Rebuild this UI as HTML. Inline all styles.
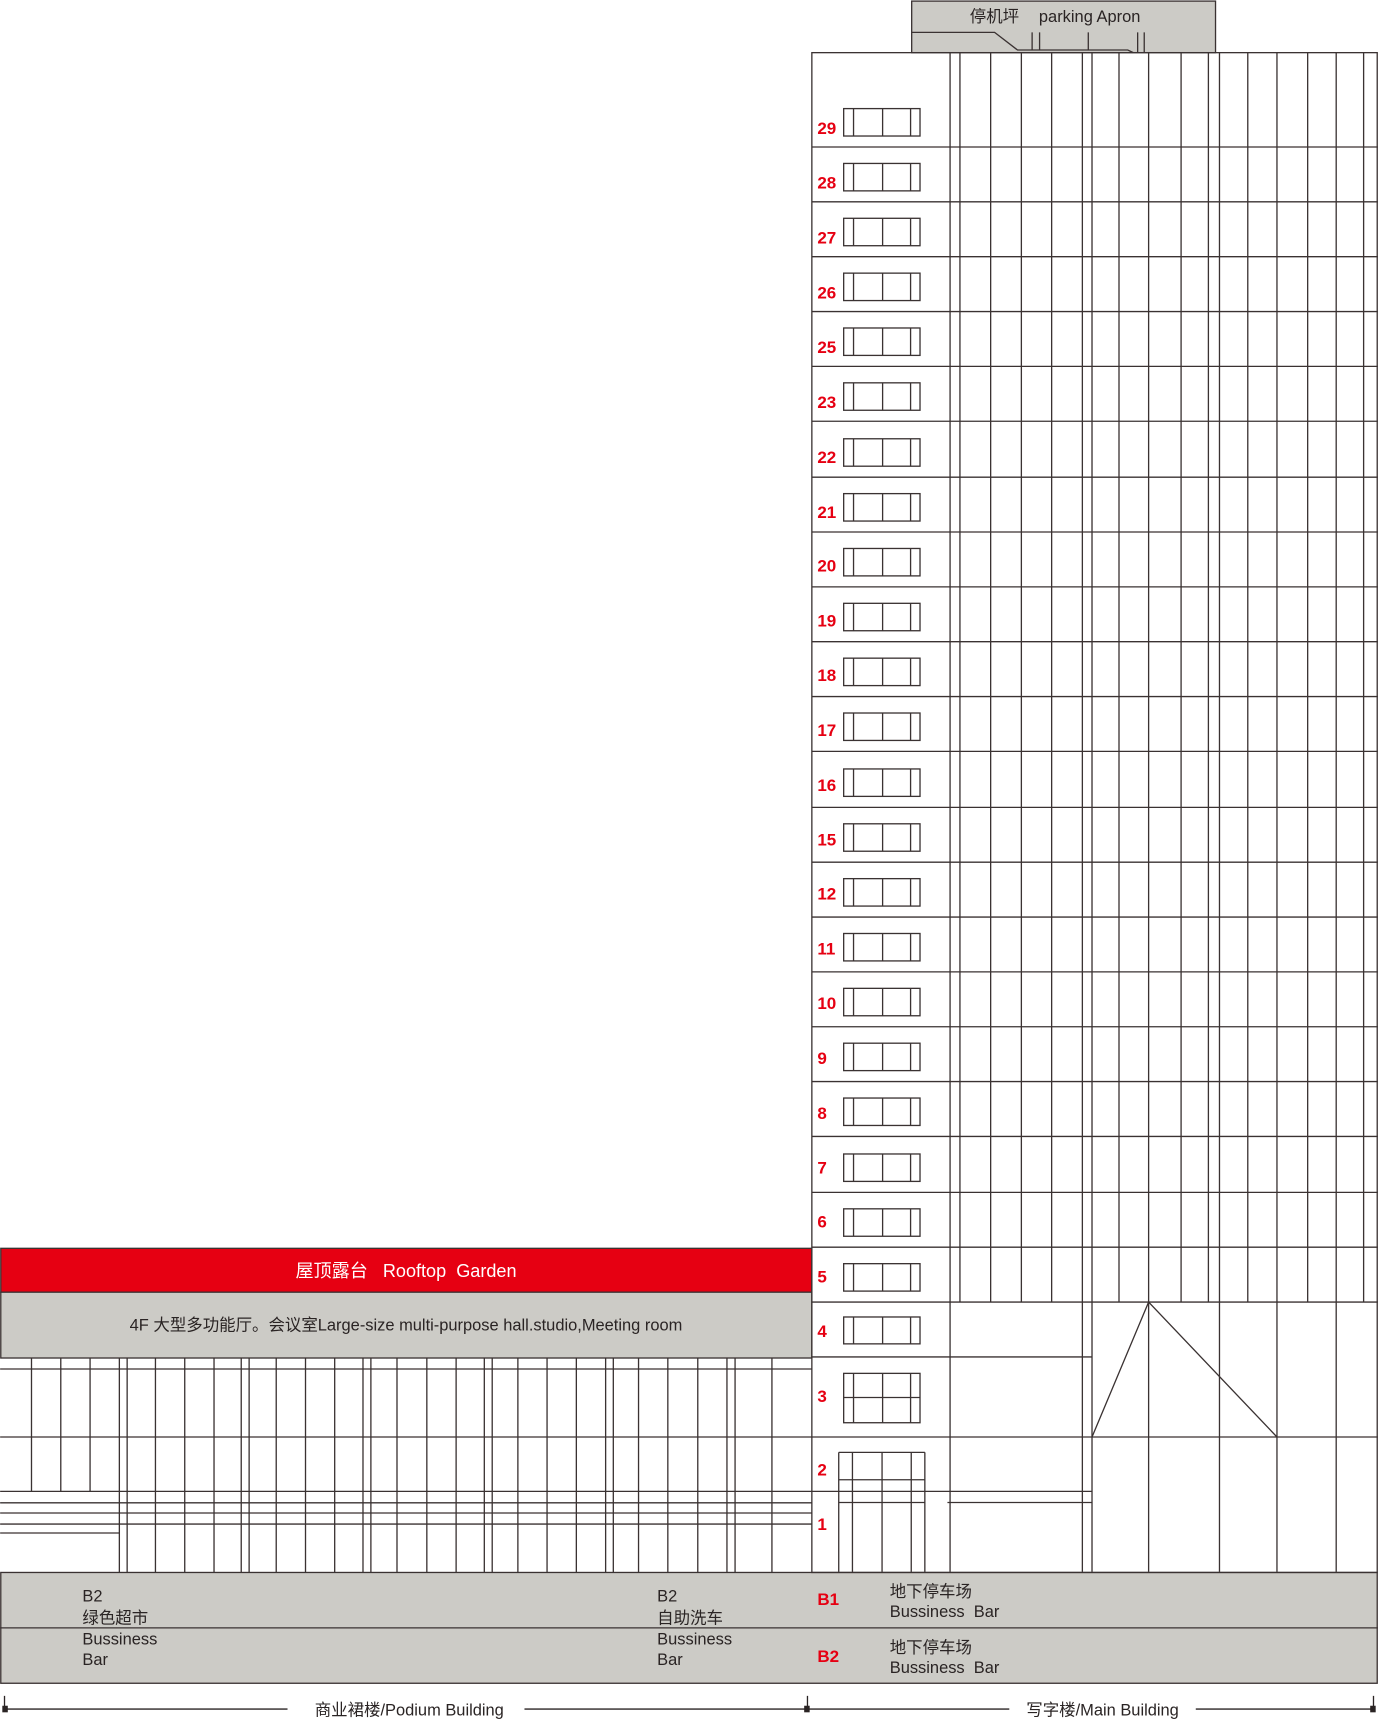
<!DOCTYPE html>
<html><head><meta charset="utf-8"><style>
html,body{margin:0;padding:0;background:#fff}
svg{display:block}
text{font-family:"Liberation Sans","Noto Sans CJK SC",sans-serif}
.r{fill:#e60012;font-weight:bold;font-size:15.5px}
.t{fill:#2a2424;font-size:15px}
</style></head><body>
<svg id="s" width="1378" height="1720" viewBox="0 0 1256 1568" xmlns="http://www.w3.org/2000/svg">
<g id="g" stroke="#3a3232" stroke-width="1.2" fill="none">
<rect x="831" y="1" width="277" height="47" fill="#cccbc6"/>
<polyline points="831,29.5 906.6,29.5 927.5,45.6 1028,45.6 1033,48"/>
<line x1="940.8" y1="29.5" x2="940.8" y2="46"/><line x1="947.6" y1="29.5" x2="947.6" y2="46"/>
<line x1="992" y1="29.5" x2="992" y2="46"/>
<line x1="1037" y1="29.5" x2="1037" y2="48"/><line x1="1043" y1="29.5" x2="1043" y2="48"/>
<rect x="0.6" y="1138" width="739.4" height="40" fill="#e60012"/>
<rect x="0.6" y="1178" width="739.4" height="60" fill="#cccbc6"/>
<rect x="0.6" y="1433.5" width="1254.8" height="101" fill="#cccbc6"/>
<line x1="0" y1="1484" x2="1256" y2="1484"/>
<rect x="740" y="48" width="515.4" height="1385.5"/>
<polyline points="995.4,1310 1047,1187 1164,1310"/>
</g>
<g>
<text x="884" y="20" class="t">停机坪</text>
<text x="947" y="20" class="t">parking Apron</text>
<text x="370" y="1164" fill="#fff" font-size="16.5" text-anchor="middle" style="font-family:'Liberation Sans','Noto Sans CJK SC',sans-serif" xml:space="preserve">屋顶露台   Rooftop  Garden</text>
<text x="370" y="1213" class="t" font-size="16.3" text-anchor="middle">4F 大型多功能厅。会议室Large-size multi-purpose hall.studio,Meeting room</text>
<text x="745" y="122" class="r">29</text><text x="745" y="172" class="r">28</text><text x="745" y="222" class="r">27</text><text x="745" y="272" class="r">26</text><text x="745" y="322" class="r">25</text><text x="745" y="372" class="r">23</text><text x="745" y="422" class="r">22</text><text x="745" y="472" class="r">21</text><text x="745" y="521" class="r">20</text><text x="745" y="571" class="r">19</text><text x="745" y="621" class="r">18</text><text x="745" y="671" class="r">17</text><text x="745" y="721" class="r">16</text><text x="745" y="771" class="r">15</text><text x="745" y="820" class="r">12</text><text x="745" y="870" class="r">11</text><text x="745" y="920" class="r">10</text><text x="745" y="970" class="r">9</text><text x="745" y="1020" class="r">8</text><text x="745" y="1070" class="r">7</text><text x="745" y="1119" class="r">6</text><text x="745" y="1169" class="r">5</text><text x="745" y="1219" class="r">4</text><text x="745" y="1278" class="r">3</text><text x="745" y="1345" class="r">2</text><text x="745" y="1395" class="r">1</text>
<text x="745" y="1463" class="r">B1</text><text x="745" y="1515" class="r">B2</text>
<text x="75" y="1460" class="t">B2</text><text x="75" y="1480" class="t">绿色超市</text><text x="75" y="1499" class="t">Bussiness</text><text x="75" y="1518" class="t">Bar</text>
<text x="599" y="1460" class="t">B2</text><text x="599" y="1480" class="t">自助洗车</text><text x="599" y="1499" class="t">Bussiness</text><text x="599" y="1518" class="t">Bar</text>
<text x="811" y="1456" class="t">地下停车场</text><text x="811" y="1474" class="t" xml:space="preserve">Bussiness  Bar</text>
<text x="811" y="1507" class="t">地下停车场</text><text x="811" y="1525" class="t" xml:space="preserve">Bussiness  Bar</text>
<g stroke="#2a2424" stroke-width="1.2">
<line x1="4" y1="1558" x2="262" y2="1558"/><line x1="478" y1="1558" x2="920" y2="1558"/><line x1="1090" y1="1558" x2="1252" y2="1558"/>
<line x1="4" y1="1546" x2="4" y2="1560"/><line x1="736" y1="1546" x2="736" y2="1560"/><line x1="1252" y1="1546" x2="1252" y2="1560"/>
</g>
<rect x="2" y="1555" width="5" height="6" fill="#2a2424"/><rect x="733" y="1555" width="5" height="6" fill="#2a2424"/><rect x="1249" y="1555" width="5" height="6" fill="#2a2424"/>
<text x="373" y="1564" class="t" font-size="16.8" text-anchor="middle">商业裙楼/Podium Building</text>
<text x="1005" y="1564" class="t" font-size="16.8" text-anchor="middle">写字楼/Main Building</text>
</g>
</svg>
<script>
var g=document.getElementById('g'),NS='http://www.w3.org/2000/svg';
function L(a,b,c,d){var e=document.createElementNS(NS,'line');e.setAttribute('x1',a);e.setAttribute('y1',b);e.setAttribute('x2',c);e.setAttribute('y2',d);g.appendChild(e);}
function R(x,y,w,h){var e=document.createElementNS(NS,'rect');e.setAttribute('x',x);e.setAttribute('y',y);e.setAttribute('width',w);e.setAttribute('height',h);g.appendChild(e);}
var fb=[134,184,234,284,334,384,435,485,535,585,635,685,736,786,836,886,936,986,1036,1087,1137,1187];
fb.forEach(function(y){L(740,y,1256,y);});
var tv=[866,875,903,931,958.6,986.6,995.4,1020,1047,1076.6,1101.5,1111.6,1137.4,1164,1192,1218,1243];
tv.forEach(function(x){L(x,48,x,1187);});
[866,986.6,995.4,1047,1111.6,1164,1218].forEach(function(x){L(x,1187,x,1433);});
L(740,1237,995.4,1237);L(740,1310,1256,1310);
L(0,1359.6,995.4,1359.6);L(863.6,1369.7,995.4,1369.7);
function win(t,h){R(769,t,69.6,h);[778,804.5,830].forEach(function(x){L(x,t,x,t+h);});}
fb.forEach(function(y){win(y-35,25);});
win(1200.6,24.5);
win(1252,45);L(769,1274,838.6,1274);
L(764.5,1324,843,1324);[764.5,777,804,830.6,843].forEach(function(x){L(x,1324,x,1433);});
L(764.5,1349,843,1349);L(764.5,1369.7,843,1369.7);
L(0,1248,740,1248);L(0,1310,740,1310);
[1370,1379.3,1389.4].forEach(function(y){L(0,y,740,y);});L(0,1397.5,108.7,1397.5);
[28.6,55.3,82].forEach(function(x){L(x,1238,x,1359.6);});
[108.7,115.8,141.6,168.3,195,219.8,227,251.7,278.4,305,330.8,338,361.8,389,415.7,441.4,448.6,472,498.6,525.3,552,559,582,608.7,636,662.6,670,703.6].forEach(function(x){L(x,1238,x,1433.5);});
</script>
</body></html>
